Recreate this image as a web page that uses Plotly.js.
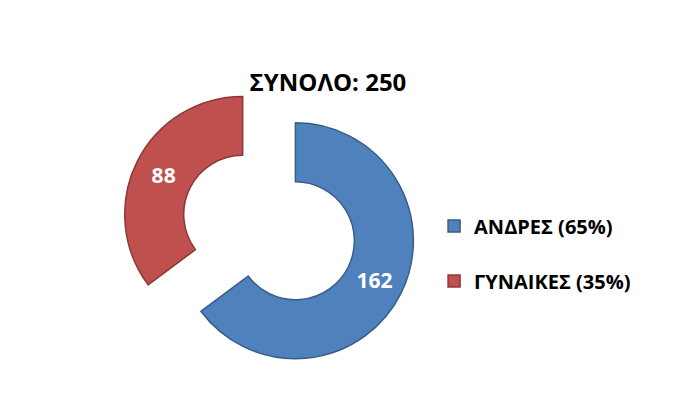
<!DOCTYPE html>
<html>
<head>
<meta charset="utf-8">
<script src="https://cdn.plot.ly/plotly-3.0.1.min.js"></script>
<style>
  html, body { margin: 0; padding: 0; background: #fff; }
  #chart { width: 689px; height: 413px; }
</style>
</head>
<body>
<div id="chart"></div>
<script>
// data
var categories = ['ΑΝΔΡΕΣ', 'ΓΥΝΑΙΚΕΣ'];
var counts = [162, 88];
var sliceColors = ['#4F81BD', '#C0504D'];
var edgeColors = ['#385D8A', '#8C3836'];

var total = counts.reduce(function (a, b) { return a + b; }, 0);

// legend labels carry the share, like "ΑΝΔΡΕΣ (65%)"
// the extra blank line just opens up the gap between the two entries
var legendLabels = categories.map(function (name, i) {
  return '<b>' + name + ' (' + Math.round(counts[i] / total * 100) + '%)</b><br> ';
});

var data = [{
  type: 'pie',
  labels: legendLabels,
  values: counts,
  hole: 0.5,
  sort: false,
  direction: 'clockwise',
  rotation: 0,
  pull: [0.25, 0.25],
  textinfo: 'value',
  textposition: 'inside',
  insidetextorientation: 'horizontal',
  textfont: { family: 'Open Sans, sans-serif', size: 21, color: '#ffffff', weight: 'bold' },
  marker: { colors: sliceColors, line: { color: edgeColors, width: 1.5 } },
  domain: { x: [0.176, 0.605], y: [0.092, 0.806] },
  hoverinfo: 'value'
}];

var layout = {
  width: 689,
  height: 413,
  margin: { t: 0, b: 0, l: 0, r: 0 },
  paper_bgcolor: '#ffffff',
  title: {
    text: '<b>ΣΥΝΟΛΟ: ' + total + '</b>',
    font: { family: 'Open Sans, sans-serif', size: 24, color: '#000000' },
    x: 0.476,
    xanchor: 'center',
    y: 0.80,
    yanchor: 'middle'
  },
  showlegend: true,
  legend: {
    x: 0.63,
    xanchor: 'left',
    y: 0.355,
    yanchor: 'middle',
    valign: 'top',
    font: { family: 'Open Sans, sans-serif', size: 20, color: '#000000' }
  }
};

Plotly.newPlot('chart', data, layout, { displayModeBar: false, staticPlot: true });
</script>
</body>
</html>
